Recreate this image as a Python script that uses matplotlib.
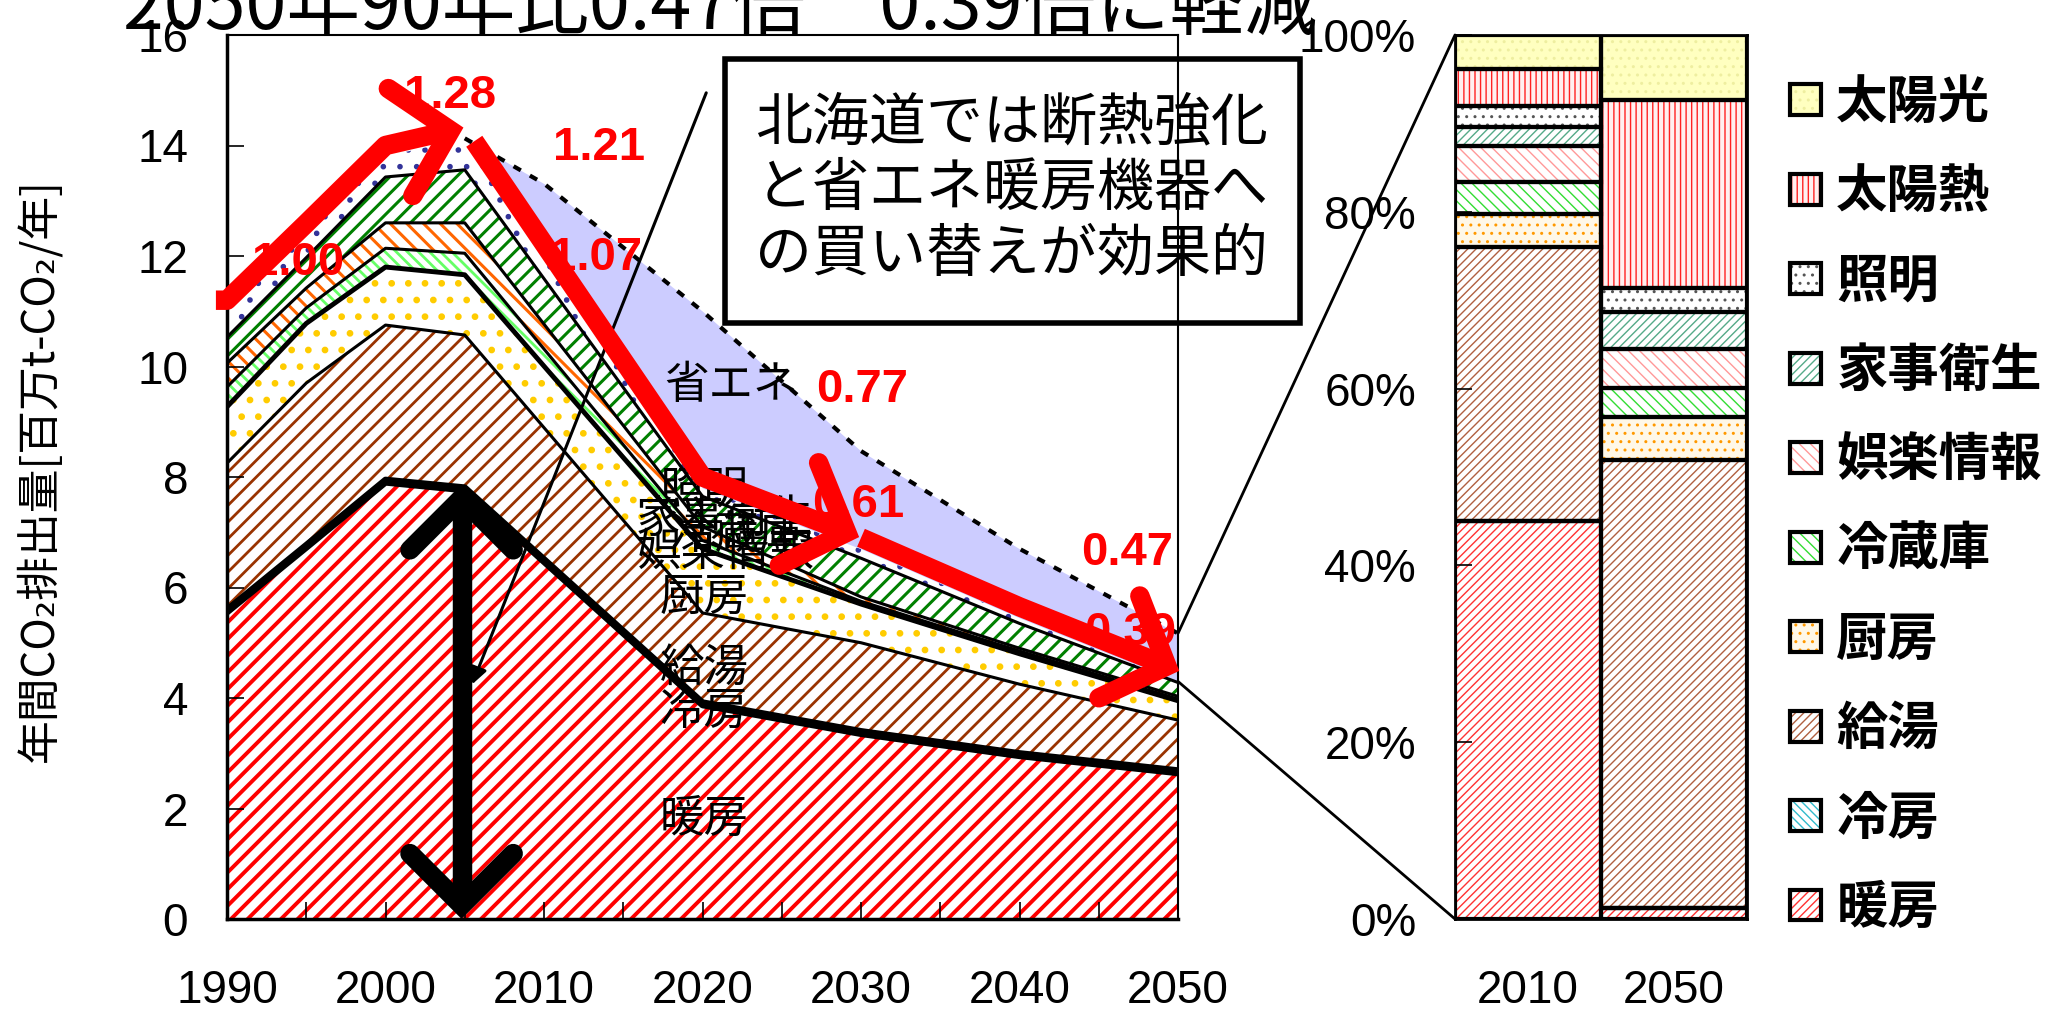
import numpy as np
import matplotlib
matplotlib.use('Agg')
import matplotlib.pyplot as plt
from matplotlib.patches import Patch, Rectangle, ConnectionPatch

plt.rcParams['font.family'] = ['Noto Sans CJK JP', 'DejaVu Sans']

# 年間CO2排出量 [百万t-CO2/年] 用途別
years = [1990, 1995, 2000, 2005, 2020, 2030, 2040, 2050]
danbou = [5.55, 6.72, 7.90, 7.76, 3.87, 3.35, 2.95, 2.64]
reibou = [0.05, 0.05, 0.05, 0.05, 0.05, 0.05, 0.05, 0.05]
kyuto = [2.65, 2.93, 2.80, 2.76, 1.62, 1.60, 1.25, 0.91]
chubou = [1.02, 1.08, 1.05, 1.09, 1.16, 0.70, 0.55, 0.35]
reizouko = [0.36, 0.28, 0.34, 0.39, 0.15, 0.05, 0.05, 0.03]
goraku = [0.43, 0.36, 0.46, 0.55, 0.25, 0.08, 0.05, 0.05]
kaji = [0.47, 0.55, 0.83, 0.96, 0.55, 0.70, 0.45, 0.25]
shoumei = [0.47, 0.42, 0.37, 0.57, 0.15, 0.17, 0.10, 0.02]

# 省エネなしの場合
bau_years = [2005, 2010, 2020, 2030, 2040, 2050]
bau = [14.13, 13.31, 11.0, 8.47, 6.7, 5.17]

ratio_labels = ['1.00', '1.28', '1.21', '1.07', '0.77', '0.61', '0.47', '0.39']
ratio_pos = [(1994.5, 11.87), (2004.1, 14.9), (2013.5, 13.95), (2013.3, 11.96),
             (2030.1, 9.58), (2029.8, 7.5), (2046.8, 6.63), (2047.0, 5.17)]

# 構成比 [%]
bar_cats = ['2010', '2050']
bar_names = ['暖房', '冷房', '給湯', '厨房', '冷蔵庫', '娯楽情報', '家事衛生', '照明', '太陽熱', '太陽光']
share_2010 = [45.0, 0.0, 31.0, 3.7, 3.7, 4.0, 2.2, 2.4, 4.1, 3.9]
share_2050 = [1.3, 0.0, 50.6, 4.9, 3.3, 4.4, 4.2, 2.7, 21.2, 7.4]

layer_names = ['暖房', '冷房', '給湯', '厨房', '冷蔵庫', '娯楽情報', '家事衛生', '照明']
layer_vals = [danbou, reibou, kyuto, chubou, reizouko, goraku, kaji, shoumei]
area_hatch = ['//', '\\\\', '//', '.', '\\\\\\', '\\\\', '//', '.']
area_col = ['#FF0000', '#33CCCC', '#993300', '#FFCC00', '#66FF66', '#FF6600', '#008000', '#333399']
area_hlw = [2.8, 2.0, 2.0, 2.4, 2.0, 2.2, 2.2, 1.6]

bar_fc = ['white', 'white', 'white', '#FFF8E8', 'white', 'white', 'white', 'white', '#FFF0F0', '#FFFFC0']
bar_hc = ['#FF3333', '#33BBCC', '#B06040', '#FF9900', '#33DD33', '#FF9999', '#55AA88', '#555555', '#FF2222', '#EEEEA0']
bar_hatch = ['////', '\\\\\\\\', '////', '..', '\\\\\\', '\\\\\\', '////', '..', '|||', '..']


def chevron(ax, tip, back, length, half, **kw):
    # 矢じり (V字) をピクセル座標で作る
    t = ax.transData.transform(tip)
    b = ax.transData.transform(back)
    d = (b - t) / np.hypot(*(b - t))
    pts = []
    for s in (half, -half):
        a = np.deg2rad(s)
        r = np.array([d[0] * np.cos(a) - d[1] * np.sin(a), d[0] * np.sin(a) + d[1] * np.cos(a)])
        pts.append(t + r * length)
    xy = ax.transData.inverted().transform([pts[0], t, pts[1]])
    ax.plot(xy[:, 0], xy[:, 1], solid_capstyle='round', solid_joinstyle='miter',
            clip_on=False, **kw)


fig = plt.figure(figsize=(20.45, 10.14), dpi=100)
ax1 = fig.add_axes([227 / 2045, 95 / 1014, 951 / 2045, 884 / 1014])
ax2 = fig.add_axes([1455 / 2045, 95 / 1014, 292 / 2045, 884 / 1014])

ax1.set_xlim(1990, 2050)
ax1.set_ylim(0, 16)

yrs = np.array(years, dtype=float)
tops = np.cumsum(np.array(layer_vals), axis=0)
bottom = np.zeros(len(years))
for i, name in enumerate(layer_names):
    plt.rcParams['hatch.linewidth'] = area_hlw[i]
    ax1.fill_between(yrs, bottom, tops[i], facecolor='white', edgecolor=area_col[i],
                     hatch=area_hatch[i], lw=0, zorder=1)
    bottom = tops[i]
total = tops[-1]

# 省エネ分
tot_b = np.interp(bau_years, yrs, total)
ax1.fill_between(bau_years, tot_b, bau, color='#CCCCFF', lw=0, zorder=1)
ax1.plot(bau_years, bau, color='k', lw=3, ls=(0, (2, 2.5)), zorder=2)

line_w = [4.5, 4.5, 2.2, 3.5, 2.2, 2.2, 2.2]
for i in range(7):
    ax1.plot(yrs, tops[i], color='k', lw=line_w[i], zorder=2)

# 用途名
area_text = {'暖房': (2020.1, 1.82), '冷房': (2020.1, 3.77), '給湯': (2020.1, 4.55),
             '厨房': (2020.1, 5.83), '省エネ': (2021.8, 9.67), '照明': (2020.1, 7.76),
             '家事衛生': (2021.4, 7.24), '冷蔵庫': (2022.2, 6.96), '娯楽情報': (2021.4, 6.65)}
for k, (x, y) in area_text.items():
    ax1.text(x, y, k, fontsize=32, ha='center', va='center', zorder=3)

# 暖房削減の両矢印
xa = 2004.8
ya_top = np.interp(xa, yrs, danbou) - 0.15
ya_bot = 0.25
ax1.plot([xa, xa], [ya_bot, ya_top], color='k', lw=14, solid_capstyle='butt', zorder=4)
chevron(ax1, (xa, ya_top), (xa, ya_bot), 73, 45, color='k', lw=14, zorder=4)
chevron(ax1, (xa, ya_bot), (xa, ya_top), 73, 45, color='k', lw=14, zorder=4)

# 赤矢印 (総量の推移)
segs = [(1989.3, 2004.1), (2005.6, 2029.1), (2030.0, 2049.3)]
for x0, x1 in segs:
    xs = [x0] + [y for y in years if x0 < y < x1] + [x1]
    ys = np.interp(xs, yrs, total) + 0.2
    ax1.plot(xs, ys, color='#FF0000', lw=14, solid_capstyle='butt',
             solid_joinstyle='round', clip_on=False, zorder=5)
    chevron(ax1, (xs[-1], ys[-1]), (xs[-2], ys[-2]), 75, 47, color='#FF0000', lw=14, zorder=5)

for lab, (x, y) in zip(ratio_labels, ratio_pos):
    ax1.text(x, y, lab, fontsize=34, fontweight='bold', color='#FF0000', ha='center',
             va='center', family='Liberation Sans', zorder=6)

ax1.annotate('', xy=(2005.4, 4.2), xytext=(2020.3, 15.0),
             arrowprops=dict(arrowstyle='-|>', lw=2.2, color='k', mutation_scale=25),
             zorder=4, annotation_clip=False)

ax1.set_xticks(range(1990, 2051, 10))
ax1.set_xticks(range(1995, 2050, 10), minor=True)
ax1.set_yticks(range(0, 17, 2))
ax1.tick_params(axis='both', which='both', direction='in', length=12, width=1.2,
                labelsize=33, labelfontfamily='Liberation Sans')
ax1.tick_params(axis='x', which='both', pad=36)
ax1.tick_params(axis='y', pad=28)
for s in ['left', 'bottom']:
    ax1.spines[s].set_linewidth(2.5)
for s in ['top', 'right']:
    ax1.spines[s].set_linewidth(1.5)

fig.text(39 / 2045, 0.536, '年間CO₂排出量[百万t-CO₂/年]', fontsize=31.5, rotation=90,
         ha='center', va='center')

fig.text(0.352, 1 - 29 / 1014, '2050年90年比0.47倍\u30000.39倍に軽減', fontsize=53,
         ha='center', va='baseline')

# 説明ボックス
fig.add_artist(Rectangle((725 / 2045, 1 - 323 / 1014), 575 / 2045, 264 / 1014,
                         transform=fig.transFigure, fill=False, ec='k', lw=4))
fig.text(1012 / 2045, 1 - 189 / 1014, '北海道では断熱強化\nと省エネ暖房機器へ\nの買い替えが効果的',
         fontsize=41, ha='center', va='center', linespacing=1.15)

# 構成比の積み上げ棒
plt.rcParams['hatch.linewidth'] = 1.0
xb = np.arange(len(bar_cats))
shares = np.array([share_2010, share_2050]).T
base = np.zeros(len(bar_cats))
handles = []
for i, name in enumerate(bar_names):
    ax2.bar(xb, shares[i], width=1.0, bottom=base, color=bar_fc[i], edgecolor=bar_hc[i],
            hatch=bar_hatch[i], lw=0, zorder=1)
    ax2.bar(xb, shares[i], width=1.0, bottom=base, fill=False, edgecolor='k', lw=3, zorder=2)
    base = base + shares[i]
    hp = Patch(facecolor=bar_fc[i], edgecolor=bar_hc[i], hatch=bar_hatch[i], lw=0)
    handles.append((hp, Patch(fill=False, edgecolor='k', lw=3)))

ax2.set_xlim(-0.5, 1.5)
ax2.set_ylim(0, 100)
ax2.set_xticks(xb, bar_cats)
ax2.set_yticks(range(0, 101, 20), [f'{v}%' for v in range(0, 101, 20)])
ax2.tick_params(axis='y', direction='in', length=12, width=1.2, labelsize=33, pad=28,
                labelfontfamily='Liberation Sans')
ax2.tick_params(axis='x', length=0, labelsize=33, pad=36, labelfontfamily='Liberation Sans')
for s in ax2.spines.values():
    s.set_linewidth(2)

fig.legend(handles[::-1], bar_names[::-1], loc='center left',
           bbox_to_anchor=(1790 / 2045, 1 - 505 / 1014), frameon=False,
           prop={'family': 'Noto Sans CJK JP', 'weight': 'bold', 'size': 37},
           handlelength=0.6, handleheight=0.55, handletextpad=0.3, labelspacing=0.71,
           borderpad=0, borderaxespad=0)

# 拡大線
for ya, yb in [(bau[-1], 1), (total[-1], 0)]:
    con = ConnectionPatch(xyA=(2050, ya), coordsA=ax1.transData, xyB=(0, yb),
                          coordsB=ax2.transAxes, color='k', lw=2)
    fig.add_artist(con)

fig.savefig('out.png', dpi=100)
